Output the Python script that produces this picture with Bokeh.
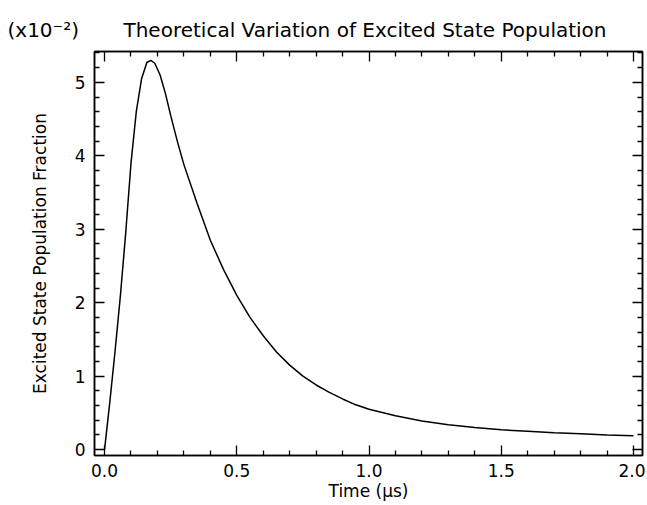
from bokeh.plotting import figure
from bokeh.models import Range1d, LinearAxis, FixedTicker, PrintfTickFormatter, Title
from bokeh.embed import file_html
from bokeh.resources import INLINE

# ---- data ----
time_us = [0.00, 0.02, 0.04, 0.06, 0.08, 0.10, 0.12, 0.14, 0.16, 0.175,
           0.19, 0.21, 0.23, 0.25, 0.275, 0.30, 0.35, 0.40, 0.45, 0.50,
           0.55, 0.60, 0.65, 0.70, 0.75, 0.80, 0.85, 0.90, 0.95, 1.00,
           1.10, 1.20, 1.30, 1.40, 1.50, 1.60, 1.70, 1.80, 1.90, 2.00]
population = [0.00, 0.65, 1.35, 2.10, 2.95, 3.90, 4.60, 5.05, 5.27, 5.30,
              5.26, 5.10, 4.85, 4.55, 4.20, 3.88, 3.35, 2.85, 2.45, 2.10,
              1.80, 1.55, 1.33, 1.15, 1.00, 0.88, 0.78, 0.69, 0.61, 0.55,
              0.46, 0.39, 0.34, 0.30, 0.27, 0.25, 0.23, 0.215, 0.20, 0.19]

x_major = [0.0, 0.5, 1.0, 1.5, 2.0]
x_minor = [0.1, 0.2, 0.3, 0.4, 0.6, 0.7, 0.8, 0.9, 1.1, 1.2, 1.3, 1.4,
           1.6, 1.7, 1.8, 1.9]
y_major = [0, 1, 2, 3, 4, 5]
y_minor = [0.2, 0.4, 0.6, 0.8, 1.2, 1.4, 1.6, 1.8, 2.2, 2.4, 2.6, 2.8,
           3.2, 3.4, 3.6, 3.8, 4.2, 4.4, 4.6, 4.8, 5.2, 5.4]

scale_text = "(x10\u207b\u00b2)"
title_text = "Theoretical Variation of Excited State Population"
x_label = "Time (\u03bcs)"
y_label = "Excited State Population Fraction"

FONT = "DejaVu Sans"
FS = "17px"

W, H = 645, 504
BL, BR, BT, BB = 94, 3, 51, 49

p = figure(width=W, height=H, output_backend="svg", toolbar_location=None,
           x_range=Range1d(-0.038, 2.034), y_range=Range1d(-0.08, 5.42),
           min_border_left=BL, min_border_right=BR, min_border_top=BT,
           min_border_bottom=BB, background_fill_color="white",
           border_fill_color="white")
p.grid.visible = False
p.outline_line_color = "black"
p.outline_line_width = 1.5

def style(ax, ticks, labels=True):
    ax.axis_line_color = "black"
    ax.axis_line_width = 1.5
    ax.major_tick_line_color = "black"
    ax.major_tick_line_width = 1.3
    ax.minor_tick_line_color = "black"
    ax.minor_tick_line_width = 1.3
    ax.major_tick_in = 10
    ax.major_tick_out = 0
    ax.minor_tick_in = 5
    ax.minor_tick_out = 0
    ax.major_label_text_font = FONT
    ax.major_label_text_color = "black"
    ax.major_label_text_font_size = FS
    ax.axis_label_text_font = FONT
    ax.axis_label_text_font_style = "normal"
    ax.axis_label_text_font_size = FS
    ax.axis_label_text_color = "black"
    if not labels:
        ax.major_label_overrides = {t: "" for t in ticks}
        ax.major_label_standoff = 0

p.xaxis.ticker = FixedTicker(ticks=x_major, minor_ticks=x_minor)
p.xaxis.formatter = PrintfTickFormatter(format="%.1f")
p.yaxis.ticker = FixedTicker(ticks=y_major, minor_ticks=y_minor)
for ax in p.xaxis:
    style(ax, x_major)
    ax.major_label_standoff = 8
    ax.axis_label = x_label
    ax.axis_label_standoff = 1
for ax in p.yaxis:
    style(ax, y_major)
    ax.major_label_standoff = 9
    ax.axis_label = y_label
    ax.axis_label_standoff = 22

top = LinearAxis(ticker=FixedTicker(ticks=x_major, minor_ticks=x_minor))
style(top, x_major, labels=False)
p.add_layout(top, "above")
right = LinearAxis(ticker=FixedTicker(ticks=y_major, minor_ticks=y_minor))
style(right, y_major, labels=False)
p.add_layout(right, "right")

p.line(time_us, population, line_color="black", line_width=1.5)

# title line: scale factor at far left, title centred over the frame
p.add_layout(Title(text=scale_text + "\u00a0" * 7 + title_text, align="left",
                   offset=-87, standoff=20, text_font=FONT,
                   text_font_size="20px", text_font_style="normal",
                   text_color="black"), "above")

open("out.html", "w").write(file_html(p, INLINE))
